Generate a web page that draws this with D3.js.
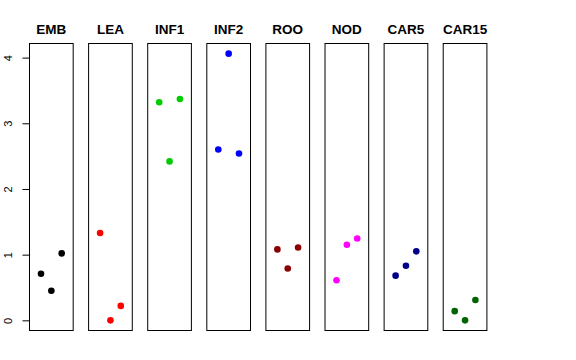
<!DOCTYPE html>
<html>
<head>
<meta charset="utf-8">
<script src="https://cdn.jsdelivr.net/npm/d3@7"></script>
<style>
  body { margin: 0; background: #fff; }
  svg { display: block; }
</style>
</head>
<body>
<div id="chart"></div>
<script>
// panel names and point colours
var panels = ["EMB", "LEA", "INF1", "INF2", "ROO", "NOD", "CAR5", "CAR15"];
var colors = ["#000000", "#FF0000", "#00CD00", "#0000FF", "#8B0000", "#FF00FF", "#00008B", "#006400"];
// three replicate values per panel
var rep1 = [0.71, 1.33, 3.32, 2.60, 1.08, 0.61, 0.68, 0.14];
var rep2 = [0.45, 0.00, 2.42, 4.06, 0.79, 1.15, 0.83, 0.00];
var rep3 = [1.02, 0.22, 3.37, 2.54, 1.11, 1.245, 1.05, 0.31];
var yTicks = [0, 1, 2, 3, 4];

var width = 576, height = 360;
var top_ = 43, bottom = 331;

var svg = d3.select("#chart").append("svg")
  .attr("width", width)
  .attr("height", height);

var panelScale = d3.scaleBand()
  .domain(panels)
  .range([29, 487.4])
  .paddingInner(0.244)
  .paddingOuter(0);

var bw = panelScale.bandwidth();

// R style: data range extended by 4%
var allVals = rep1.concat(rep2, rep3);
var yMin = d3.min(allVals), yMax = d3.max(allVals);
var pad = (yMax - yMin) * 0.04;
var y = d3.scaleLinear().domain([yMin - pad, yMax + pad]).range([bottom, top_]);

// x within each panel: replicate 1..3, xlim 0..4 with 4% extension
var x = d3.scaleLinear().domain([-0.16, 4.16]).range([0, bw]);

var data = panels.map(function (p, i) {
  return { name: p, color: colors[i], vals: [rep1[i], rep2[i], rep3[i]] };
});

var g = svg.selectAll("g.panel")
  .data(data)
  .enter()
  .append("g")
  .attr("class", "panel")
  .attr("transform", function (d) { return "translate(" + panelScale(d.name) + ",0)"; });

g.append("rect")
  .attr("x", 0.5)
  .attr("y", top_ + 0.5)
  .attr("width", bw - 1)
  .attr("height", bottom - top_ - 1)
  .attr("fill", "none")
  .attr("stroke", "#000")
  .attr("stroke-width", 1);

g.append("text")
  .attr("x", bw / 2)
  .attr("y", 34)
  .attr("text-anchor", "middle")
  .attr("font-family", "Liberation Sans, Arial, sans-serif")
  .attr("font-weight", "bold")
  .attr("font-size", "13.5px")
  .text(function (d) { return d.name; });

g.selectAll("circle")
  .data(function (d) { return d.vals.map(function (v, j) { return { v: v, j: j + 1, c: d.color }; }); })
  .enter()
  .append("circle")
  .attr("cx", function (d) { return x(d.j); })
  .attr("cy", function (d) { return y(d.v); })
  .attr("r", 3.3)
  .attr("fill", function (d) { return d.c; });

// left axis on first panel, line only spans the tick range
var axis = svg.append("g")
  .attr("transform", "translate(29.5,0)")
  .call(d3.axisLeft(y).tickValues(yTicks).tickSize(7).tickSizeOuter(0).tickFormat(d3.format("d")));
axis.select(".domain").remove();
axis.append("line")
  .attr("y1", y(0)).attr("y2", y(4))
  .attr("stroke", "#000");
axis.selectAll(".tick line").attr("stroke", "#000");
axis.selectAll(".tick text")
  .attr("font-family", "Liberation Sans, Arial, sans-serif")
  .attr("font-size", "11px")
  .attr("fill", "#000")
  .attr("text-anchor", "middle")
  .attr("x", 0)
  .attr("y", 0)
  .attr("dy", "0.35em")
  .attr("transform", "translate(-21,0) rotate(-90)");
</script>
</body>
</html>
